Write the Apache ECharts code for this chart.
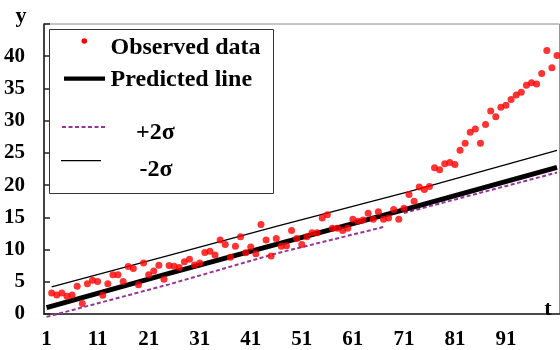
<!DOCTYPE html>
<html><head><meta charset="utf-8">
<script src="https://cdn.jsdelivr.net/npm/echarts@6/dist/echarts.min.js"></script>
<style>html,body{margin:0;padding:0;background:#fff}#c{width:560px;height:350px}</style>
</head><body><div id="c"></div>
<script>
// categories t = 1..101 (the last one is cut by the right edge)
const tCategories = Array.from({length: 101}, (_, i) => String(i + 1));
const xTickLabels = ['1','11','21','31','41','51','61','71','81','91'];
const yTickLabels = [0,5,10,15,20,25,30,35,40];

// Observed data, t = 2 .. 101
const observedStartT = 2;
const observedValues = [
  3.25, 2.94, 3.25, 2.74, 2.94, 4.31, 1.63, 4.68, 5.23, 5.03,
  2.9, 4.68, 6.1, 6.1, 5.03, 7.36, 7.06, 4.53, 7.93, 6.1,
  6.66, 7.58, 5.38, 7.52, 7.4, 7.2, 8.1, 8.5, 7.6, 7.9,
  9.55, 9.75, 9.15, 11.5, 10.8, 8.8, 10.5, 12.0, 9.5, 10.4,
  9.35, 13.9, 11.5, 9.0, 11.7, 10.5, 10.6, 12.96, 11.7, 10.8,
  12.0, 12.6, 12.6, 14.9, 15.4, 13.3, 13.3, 12.96, 13.3, 14.7,
  14.4, 14.6, 15.65, 14.7, 15.85, 14.7, 14.9, 16.2, 14.7, 16.4,
  18.55, 17.5, 19.7, 19.3, 19.8, 22.7, 22.4, 23.3, 23.5, 23.2,
  25.4, 26.5, 28.2, 28.7, 26.5, 29.4, 31.5, 30.6, 32.1, 32.4,
  33.3, 34.0, 34.4, 35.5, 35.9, 35.7, 37.3, 40.9, 38.2, 40.1
];

// Predicted line (read at a few t)
const predictedT = ['1', '25', '46', '72', '101'];
const predictedV = [1.0, 6.3, 10.8, 16.4, 22.75];

// -2σ (thin black, above)
const minus2T = ['2', '25', '46', '72', '101'];
const minus2V = [4.2, 9.1, 13.6, 19.0, 25.4];

// +2σ (purple dashed, below) – two pieces with a gap
const plus2T = ['1', '25', '46', '67', '68', '71', '101'];
const plus2V = [-0.45, 4.6, 9.4, 13.5, null, 15.67, 21.95];

const legendNames = ['Observed data', 'Predicted line', '+2σ', '-2σ'];

const FONT = 'Liberation Serif';
const PURPLE = '#993399';
const pair = (ts, vs) => ts.map((t, i) => [t, vs[i]]);
const observedData = observedValues.map((v, i) => [String(i + observedStartT), v]);

const chart = echarts.init(document.getElementById('c'));
const labelStyle = {fontFamily: FONT, fontWeight: 'bold', fontSize: 21, color: '#000'};
const lgFont = 'bold 24px "Liberation Serif"';
const lgText = (txt, x, y) => ({type: 'text', z: 5, x: x, y: y,
  style: {text: txt, font: lgFont, fill: '#000', align: 'left', verticalAlign: 'middle'}});

chart.setOption({
  animation: false,
  backgroundColor: '#fff',
  grid: {left: 44, top: 24, width: 521.16, height: 296, show: true, borderColor: '#8c8c8c', borderWidth: 1},
  xAxis: {
    type: 'category', data: tCategories, boundaryGap: true,
    axisLine: {lineStyle: {color: '#222', width: 1.6}},
    axisTick: {interval: 9, inside: true, length: 6, lineStyle: {color: '#222', width: 1.5}},
    axisLabel: Object.assign({interval: 9, margin: 15,
      formatter: v => xTickLabels.indexOf(v) >= 0 ? v : ''}, labelStyle),
    splitLine: {show: false}
  },
  yAxis: {
    type: 'value', min: 0, max: 45, interval: 5,
    axisLine: {show: true, lineStyle: {color: '#222', width: 1.6}},
    axisTick: {show: true, inside: true, length: 6, lineStyle: {color: '#222', width: 1.5}},
    axisLabel: Object.assign({margin: 19, padding: [0, 0, 5, 0],
      formatter: v => yTickLabels.indexOf(v) >= 0 ? String(v) : ''}, labelStyle),
    splitLine: {show: false}
  },
  graphic: [
    // legend box
    {type: 'rect', z: 3, shape: {x: 49.5, y: 29.5, width: 224, height: 164}, style: {fill: '#fff', stroke: '#333', lineWidth: 1}},
    {type: 'circle', z: 5, shape: {cx: 84.3, cy: 41, r: 2.8}, style: {fill: '#ff0000'}},
    lgText(legendNames[0], 110.5, 48),
    {type: 'line', z: 5, shape: {x1: 64, y1: 78.7, x2: 105, y2: 78.7}, style: {stroke: '#000', lineWidth: 4.3}},
    lgText(legendNames[1], 110.5, 80),
    {type: 'line', z: 5, shape: {x1: 62, y1: 127, x2: 105, y2: 127}, style: {stroke: PURPLE, lineWidth: 2, lineDash: [4, 2.5]}},
    lgText(legendNames[2], 136, 132.5),
    {type: 'line', z: 5, shape: {x1: 61, y1: 160.7, x2: 101, y2: 160.7}, style: {stroke: '#000', lineWidth: 1.2}},
    lgText(legendNames[3], 139.5, 170),
    // axis names
    {type: 'text', z: 5, x: 21, y: 16, style: {text: 'y', font: 'bold 22px "Liberation Serif"', fill: '#000', align: 'center', verticalAlign: 'middle'}},
    {type: 'text', z: 5, x: 548, y: 309, style: {text: 't', font: 'bold 22px "Liberation Serif"', fill: '#000', align: 'center', verticalAlign: 'middle'}}
  ],
  series: [
    {name: legendNames[2], type: 'line', data: pair(plus2T, plus2V), symbol: 'none', clip: false, z: 2,
     itemStyle: {color: PURPLE}, lineStyle: {color: PURPLE, width: 2, type: [4, 2.5]}},
    {name: legendNames[3], type: 'line', data: pair(minus2T, minus2V), symbol: 'none', z: 2,
     itemStyle: {color: '#000'}, lineStyle: {color: '#000', width: 1.3}},
    {name: legendNames[1], type: 'line', data: pair(predictedT, predictedV), symbol: 'none', z: 2,
     itemStyle: {color: '#000'}, lineStyle: {color: '#000', width: 5}},
    {name: legendNames[0], type: 'scatter', data: observedData, symbol: 'circle', symbolSize: 7, z: 2,
     itemStyle: {color: '#ff0000'}}
  ]
});
</script>
</body></html>
